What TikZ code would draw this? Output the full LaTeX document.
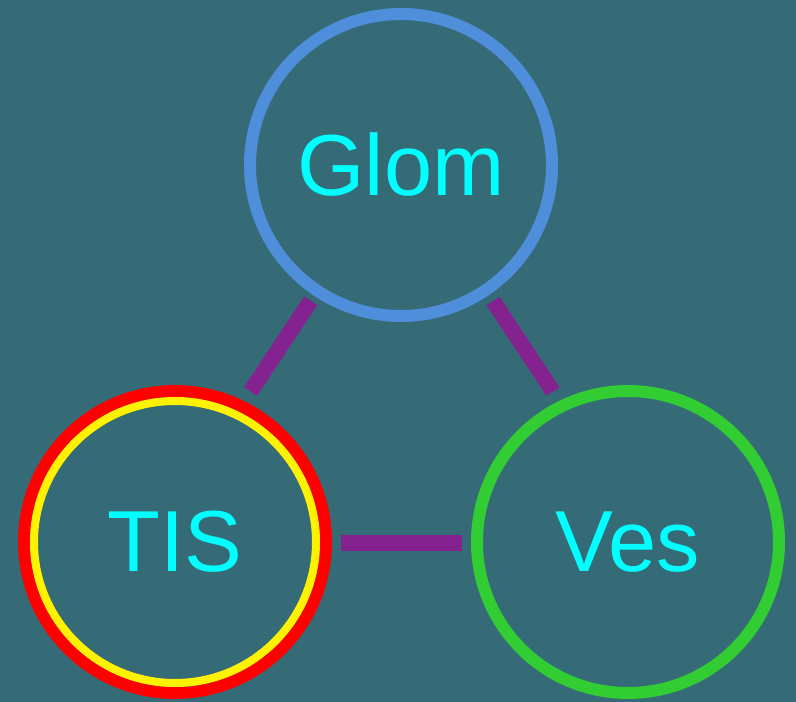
\documentclass[tikz,border=0pt]{standalone}
\usepackage{fontspec}
\setmainfont{Liberation Sans}
\usetikzlibrary{calc}
\definecolor{bgteal}{HTML}{356B77}
\definecolor{ringblue}{HTML}{4F8EDB}
\definecolor{ringgreen}{HTML}{32CD32}
\definecolor{linkpurple}{HTML}{84228F}
\definecolor{labelcyan}{HTML}{00FFFF}
\tikzset{
  state/.style={circle, inner sep=0pt, line width=9pt, minimum size=226.5pt,
    text=labelcyan, font=\fontsize{65}{78}\selectfont},
  link/.style={draw=linkpurple, line width=11.7pt, line cap=butt},
}
\begin{document}
\begin{tikzpicture}[x=0.75pt, y=-0.75pt]
  % canvas
  \fill[bgteal] (0,0) rectangle (796,702);
  \useasboundingbox (0,0) rectangle (796,702);

  % states
  \node[state, draw=ringblue]  (glom) at (401,165) {Glom};
  \node[state, draw=red]       (tis)  at (175,542) {TIS};
  \node[state, draw=ringgreen] (ves)  at (628,542) {Ves};
  % inner ring of the highlighted state
  \draw[yellow, line width=6pt] (tis.center) circle[radius=141];

  % link end points, just outside the rings
  \coordinate (glomL) at ($(glom)+(-90.3,135.8)$);
  \coordinate (tisU)  at ($(tis)+(75.5,-150.5)$);
  \coordinate (glomR) at ($(glom)+(92,136)$);
  \coordinate (vesU)  at ($(ves)+(-75,-150.5)$);
  \coordinate (tisR)  at ($(tis)+(166,0.8)$);
  \coordinate (vesL)  at ($(ves)+(-165.7,0.8)$);

  % links
  \draw[link] (glomL) -- (tisU);
  \draw[link] (glomR) -- (vesU);
  \draw[link] (tisR) -- (vesL);
\end{tikzpicture}
\end{document}
